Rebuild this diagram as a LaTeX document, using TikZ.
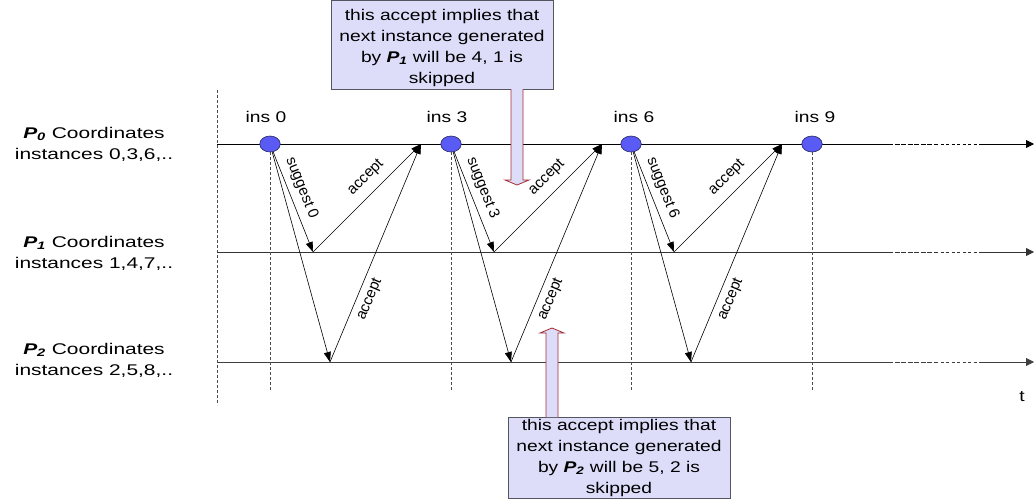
\documentclass[tikz,border=0pt]{standalone}
\usepackage{fontspec}
\setmainfont{Liberation Sans}
\usepackage{graphicx}
\usetikzlibrary{arrows.meta,shapes.geometric,fit}
\definecolor{dotblue}{RGB}{90,90,245}
\definecolor{dotedge}{RGB}{40,40,100}
\definecolor{boxfill}{RGB}{221,221,250}
\definecolor{boxedge}{RGB}{85,85,95}
\definecolor{arrowred}{RGB}{165,45,50}
\newcommand{\sx}[1]{\scalebox{1.24}[1]{#1}}
\newcommand{\sxl}[1]{\scalebox{1.35}[1]{#1}}
\newcommand{\Pn}[1]{\textbf{\textit{P\textsubscript{#1}}}}
\begin{document}
\begin{tikzpicture}[x=1pt,y=-1pt,
  txt/.style={font=\fontsize{15.5}{21}\selectfont, align=center, inner sep=0pt},
  boxtxt/.style={font=\fontsize{15.5}{20.7}\selectfont, align=center, inner sep=0pt},
  insdot/.style={ellipse, draw=dotedge, fill=dotblue, minimum width=20.5pt, minimum height=16pt, inner sep=0pt, line width=0.6pt},
  msg/.style={-{Triangle[length=10pt,width=7pt]}, line width=0.6pt},
  mlbl/.style={font=\fontsize{15}{15}\selectfont, sloped, inner sep=1pt},
  tline/.style={line width=0.8pt},
  vdash/.style={dash pattern=on 3pt off 2pt, line width=0.6pt, black!70},
  boxframe/.style={draw=boxedge, fill=boxfill, line width=0.8pt, inner sep=0pt},
  hollow/.style={draw=arrowred, fill=boxfill, line width=0.8pt},
]
\useasboundingbox (0,0) rectangle (1034,499);

% left labels
\node[txt] (lab0) at (94,144) {\sxl{\Pn{0} Coordinates}\\\sxl{instances 0,3,6,..}};
\node[txt] (lab1) at (94,253) {\sxl{\Pn{1} Coordinates}\\\sxl{instances 1,4,7,..}};
\node[txt] (lab2) at (94,360) {\sxl{\Pn{2} Coordinates}\\\sxl{instances 2,5,8,..}};

% left dashed boundary
\coordinate (bt) at (217,90);
\coordinate (bb) at (217,405);
\draw[vdash] (bt) -- (bb);

% time lines
\foreach \yy/\cc [count=\i from 0] in {144/black, 252/black!80, 362/black!75}{
  \coordinate (L\i s) at (217,\yy);
  \coordinate (L\i m) at (888,\yy);
  \coordinate (L\i n) at (935,\yy);
  \coordinate (L\i k) at (980,\yy);
  \coordinate (L\i e) at (1034,\yy);
  \draw[tline,\cc] (L\i s) -- (L\i m);
  \draw[tline,\cc,dash pattern=on 5pt off 1.5pt] (L\i m) -- (L\i n);
  \draw[tline,\cc,dash pattern=on 3pt off 2.5pt] (L\i n) -- (L\i k);
  \draw[tline,\cc,-{Triangle[length=8pt,width=8pt]}] (L\i k) -- (L\i e);
}

\node[txt] (tlab) at (1022,397) {\sx{t}};

% instance dots
\node[insdot] (c0) at (270,144) {};
\node[insdot] (c3) at (451,144) {};
\node[insdot] (c6) at (631,144) {};
\node[insdot] (c9) at (812,144) {};
\node[txt] (i0) at (266,116.5) {\sx{ins 0}};
\node[txt] (i3) at (447,116.5) {\sx{ins 3}};
\node[txt] (i6) at (634,116.5) {\sx{ins 6}};
\node[txt] (i9) at (815,116.5) {\sx{ins 9}};

% vertical dashed lines below dots
\foreach \n/\xx in {0/270,3/451,6/631,9/812}{
  \coordinate (d\n) at (\xx,390);
  \draw[vdash] (c\n.south) -- (d\n);
}

% messages
\foreach \n/\xx in {0/270,3/451,6/631}{
  \coordinate (c\n a) at (\xx+43,252);
  \coordinate (c\n b) at (\xx+60,362);
  \coordinate (c\n t) at (\xx+151,144);
  \draw[msg] (c\n) -- node[mlbl, pos=0.41, above=5pt] {suggest \n} (c\n a);
  \draw[msg] (c\n) -- (c\n b);
  \draw[msg] (c\n a) -- node[mlbl, pos=0.59, above=7.5pt] {accept} (c\n t);
  \draw[msg] (c\n b) -- node[mlbl, pos=0.31, below=5pt] {accept} (c\n t);
}

% callout boxes
\coordinate (b1nw) at (331,0.5);
\coordinate (b1se) at (553,89);
\node[boxframe, fit=(b1nw)(b1se)] (box1) {};
\node[boxtxt] (box1t) at (442,48) {\sx{this accept implies that}\\\sx{next instance generated}\\\sx{by \Pn{1} will be 4, 1 is}\\\sx{skipped}};

\coordinate (b2nw) at (508,417);
\coordinate (b2se) at (730,498.6);
\node[boxframe, fit=(b2nw)(b2se)] (box2) {};
\node[boxtxt] (box2t) at (619,458) {\sx{this accept implies that}\\\sx{next instance generated}\\\sx{by \Pn{2} will be 5, 2 is}\\\sx{skipped}};

% hollow arrows
\coordinate (h1) at (517,185);
\draw[hollow] (511,89) -- (511,180) -- (505,180) -- (h1) -- (529,180) -- (523,180) -- (523,89);
\coordinate (h2) at (552,328);
\draw[hollow] (546,417) -- (546,333) -- (540,333) -- (h2) -- (564,333) -- (558,333) -- (558,417);
\end{tikzpicture}
\end{document}
